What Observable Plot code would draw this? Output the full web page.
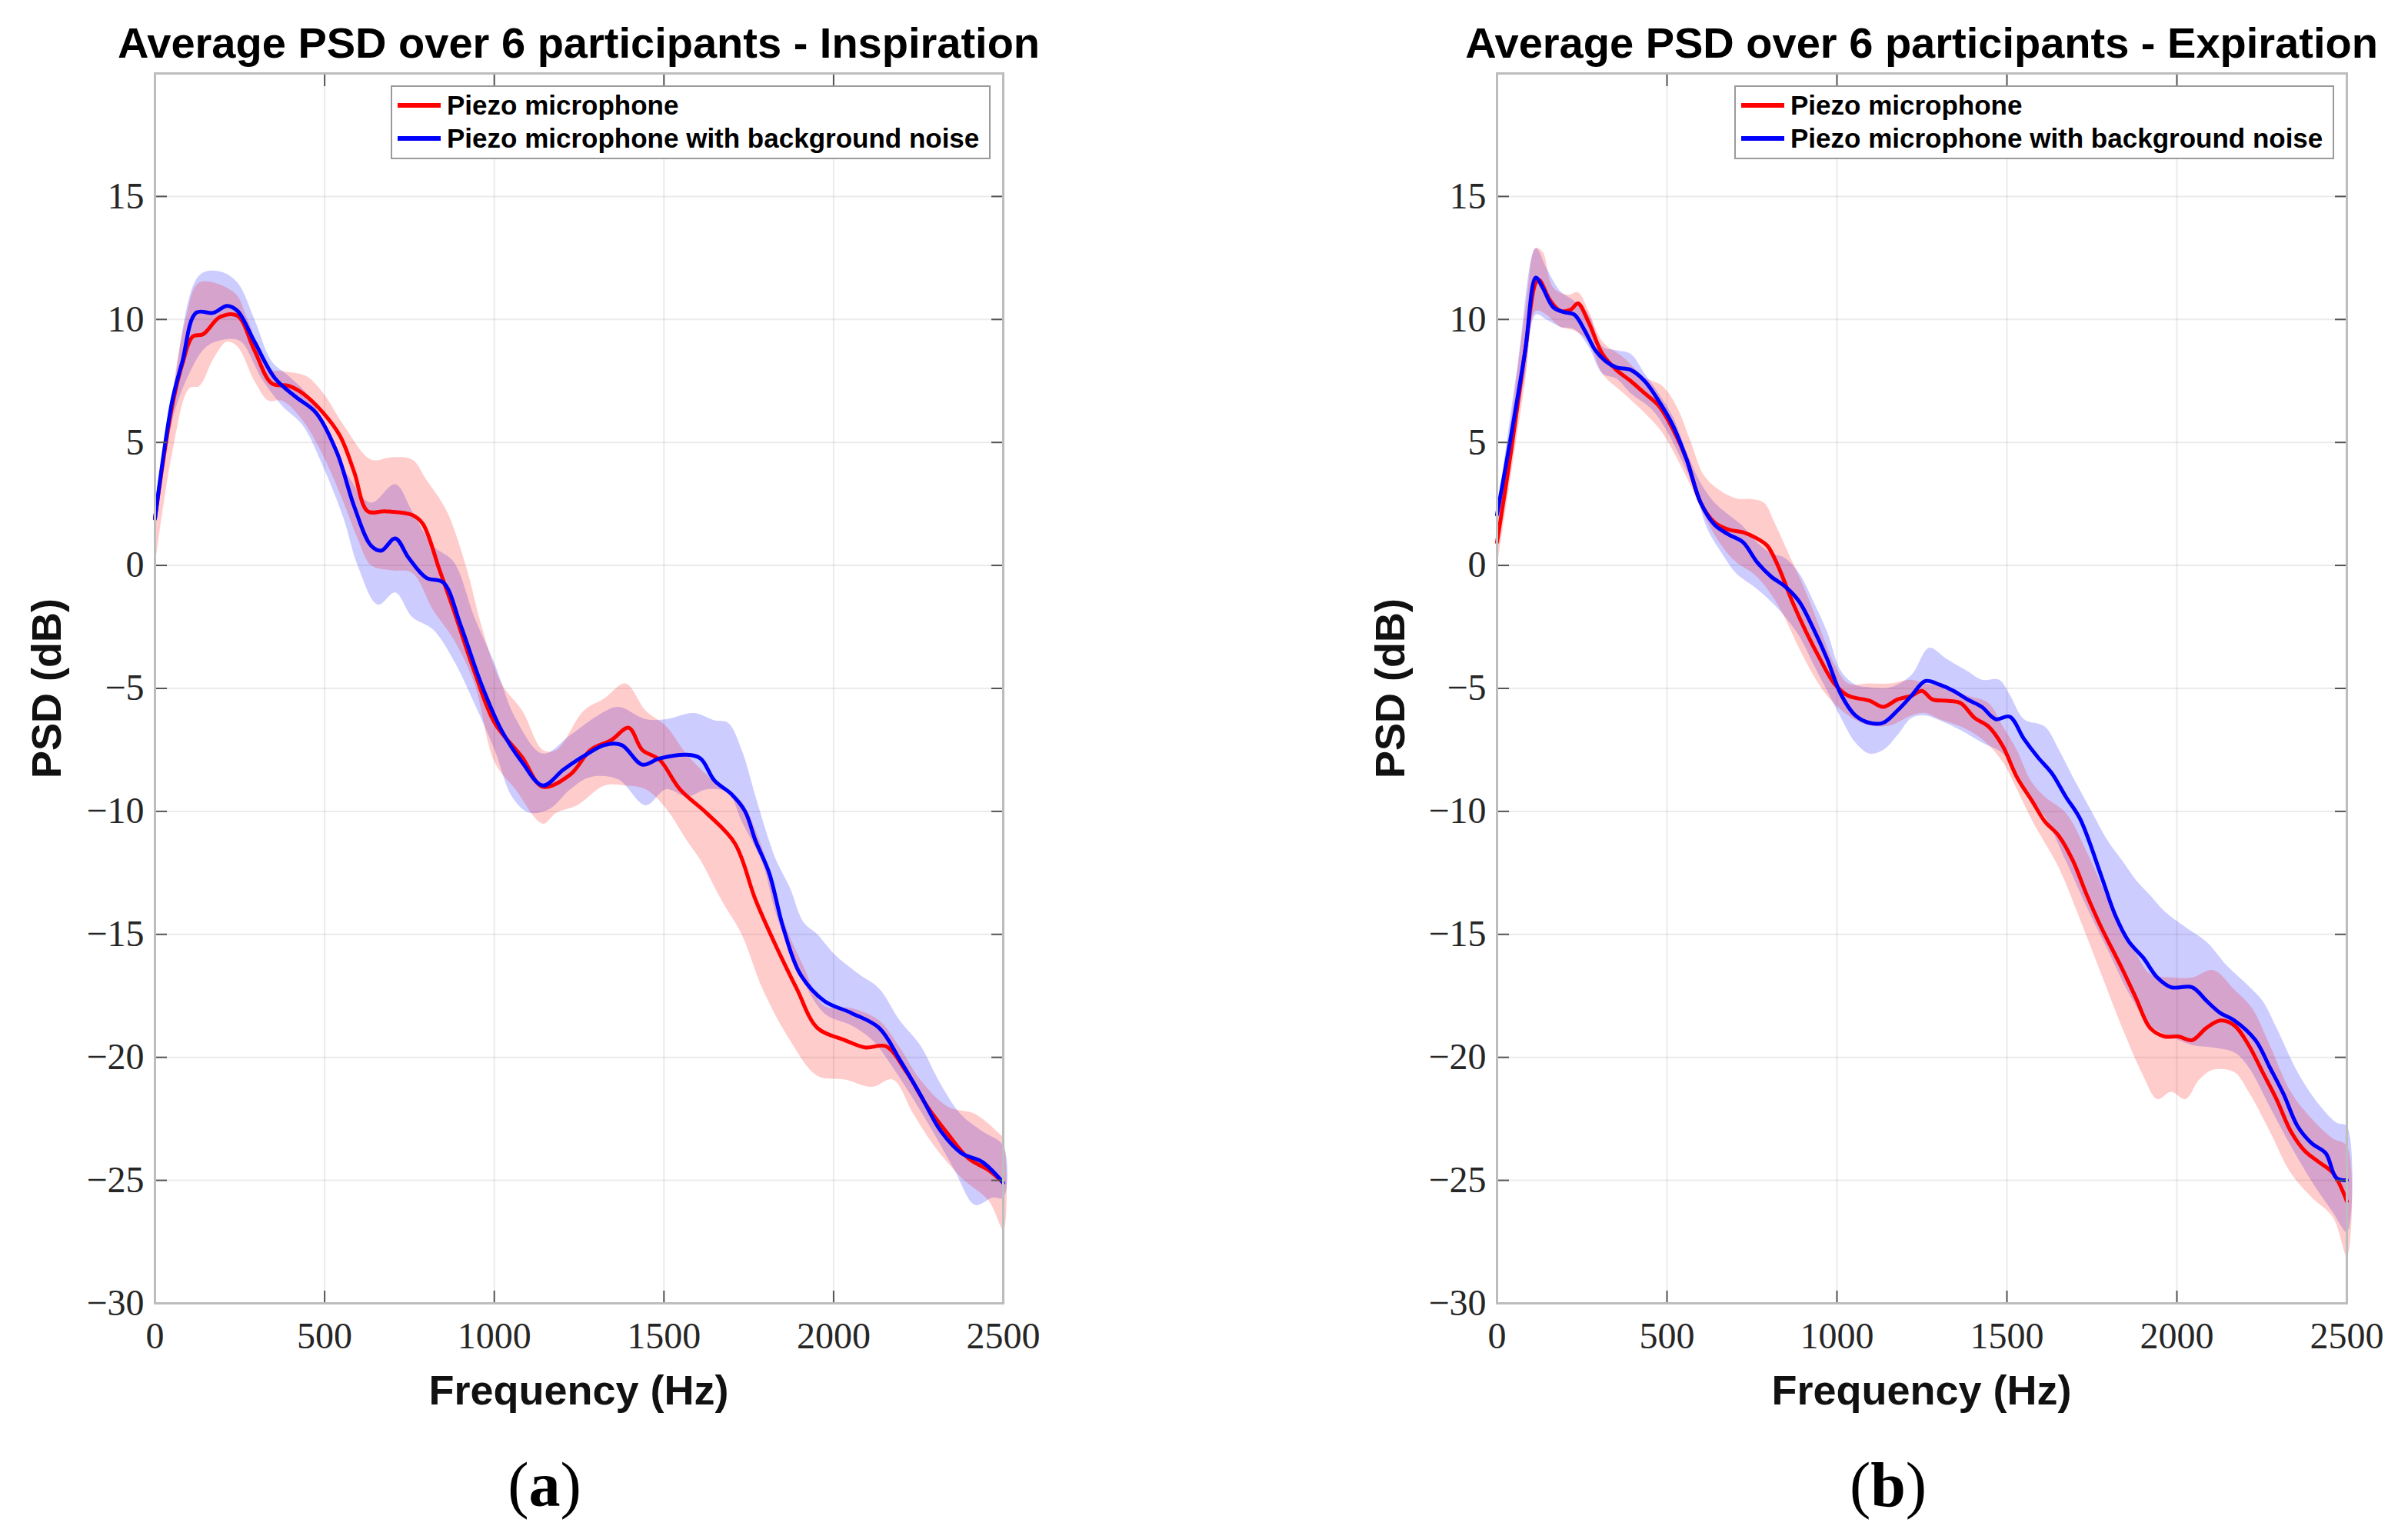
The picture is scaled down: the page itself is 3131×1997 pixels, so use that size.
<!DOCTYPE html>
<html>
<head>
<meta charset="utf-8">
<script src="https://cdn.jsdelivr.net/npm/d3@7"></script>
<script src="https://cdn.jsdelivr.net/npm/@observablehq/plot@0.6"></script>
<style>
  html, body { margin: 0; padding: 0; background: #fff; }
  #page { position: relative; width: 3131px; height: 1997px; background: #fff; overflow: hidden; }
  .abs { position: absolute; white-space: nowrap; }
  .title { font-family: "Liberation Sans", Arial, sans-serif; font-weight: bold; font-size: 56px; line-height: 56px; text-align: center; color: #000; }
  .xlab { font-family: "Liberation Sans", Arial, sans-serif; font-weight: bold; font-size: 54px; line-height: 54px; text-align: center; color: #111; }
  .ylab { font-family: "Liberation Sans", Arial, sans-serif; font-weight: bold; font-size: 54px; line-height: 54px; text-align: center; color: #111; width: 400px; transform: rotate(-90deg); }
  .legend { border: 2px solid #9a9a9a; background: #fff; box-sizing: border-box; }
  .legend .row { position: absolute; left: 0; font-family: "Liberation Sans", Arial, sans-serif; font-weight: bold; font-size: 35px; line-height: 35px; color: #000; }
  .legend .swatch { position: absolute; height: 6px; width: 56px; }
  .cap { font-family: "Liberation Serif", "Times New Roman", serif; font-size: 82px; line-height: 82px; text-align: center; color: #000; }
</style>
</head>
<body>
<div id="page"></div>
<script>
// ---------------- DATA ----------------
const xTicks = [0, 500, 1000, 1500, 2000, 2500];
const yTicks = [-30, -25, -20, -15, -10, -5, 0, 5, 10, 15];
const seriesNames = ["Piezo microphone", "Piezo microphone with background noise"];
const panelTitles = ["Average PSD over 6 participants - Inspiration", "Average PSD over 6 participants - Expiration"];
const panelCaptions = ["a", "b"];

// Inspiration — Piezo microphone (mean, upper, lower) [Hz, dB]
const inspPiezoMean = [[0,1.9],[51,6.5],[81,8.2],[111,9.3],[142,9.4],[192,10.1],[243,10.15],[293,8.75],[344,7.4],[394,7.3],[435,7.0],[496,6.2],[546,5.25],[587,3.8],[627,2.2],[678,2.2],[758,2.05],[789,1.7],[839,-0.2],[880,-1.8],[941,-4.3],[1001,-6.4],[1082,-7.8],[1143,-9.0],[1224,-8.5],[1284,-7.5],[1345,-7.1],[1396,-6.6],[1436,-7.5],[1487,-7.9],[1547,-9.1],[1628,-10.1],[1709,-11.3],[1770,-13.6],[1831,-15.5],[1891,-17.2],[1952,-18.8],[2033,-19.3],[2094,-19.6],[2154,-19.55],[2215,-20.6],[2276,-22.0],[2336,-23.1],[2397,-24.1],[2458,-24.6],[2500,-25.1]];
const inspPiezoUpper = [[0,2.0],[51,7.0],[90,10.0],[131,11.5],[233,11.1],[273,10.0],[334,8.0],[374,7.9],[445,7.7],[496,7.0],[556,5.7],[637,4.3],[698,4.4],[758,4.3],[799,3.5],[860,2.2],[920,-0.2],[961,-2.4],[1021,-4.8],[1082,-5.9],[1143,-7.5],[1183,-7.5],[1264,-5.9],[1325,-5.4],[1386,-4.8],[1446,-5.9],[1507,-6.55],[1568,-7.7],[1649,-8.8],[1709,-9.4],[1729,-9.6],[1790,-11.5],[1851,-14.4],[1911,-16.3],[1972,-17.9],[2053,-18.0],[2134,-18.5],[2195,-19.6],[2255,-20.9],[2336,-22.0],[2417,-22.3],[2488,-23.1],[2500,-23.3]];
const inspPiezoLower = [[0,0],[51,4.6],[101,7.2],[131,7.3],[172,8.4],[212,9.1],[243,8.9],[293,7.5],[334,6.7],[374,6.7],[435,5.9],[496,4.45],[556,2.55],[597,1.1],[637,0],[698,-0.2],[758,-0.3],[819,-1.8],[880,-3.0],[941,-4.8],[1001,-8.0],[1062,-9.1],[1143,-10.5],[1183,-10.05],[1244,-9.75],[1325,-8.95],[1386,-8.95],[1446,-9.1],[1507,-9.9],[1568,-11.2],[1608,-12.0],[1669,-13.6],[1729,-15.0],[1790,-17.2],[1871,-19.3],[1952,-20.75],[2033,-20.9],[2114,-21.2],[2174,-20.9],[2235,-22.3],[2296,-23.6],[2377,-24.9],[2458,-25.85],[2500,-27.0]];

// Inspiration — Piezo microphone with background noise
const inspNoiseMean = [[0,1.9],[51,6.7],[81,8.3],[121,10.27],[172,10.27],[212,10.55],[243,10.35],[293,9.1],[354,7.6],[415,6.85],[475,6.2],[536,4.6],[587,2.4],[637,0.8],[667,0.6],[708,1.1],[748,0.3],[799,-0.5],[850,-0.7],[900,-2.4],[961,-4.8],[1021,-6.7],[1082,-8.0],[1143,-8.95],[1204,-8.3],[1264,-7.75],[1325,-7.3],[1375,-7.3],[1436,-8.1],[1487,-7.85],[1568,-7.7],[1608,-7.85],[1649,-8.75],[1699,-9.3],[1739,-10.0],[1770,-11.2],[1810,-12.5],[1851,-14.7],[1901,-16.6],[1972,-17.7],[2053,-18.2],[2134,-18.8],[2195,-20.1],[2255,-21.5],[2316,-23.0],[2377,-23.9],[2438,-24.25],[2500,-25.1]];
const inspNoiseUpper = [[0,2.0],[51,6.85],[131,11.8],[192,11.95],[243,11.5],[293,10.0],[344,8.3],[394,7.7],[455,6.85],[516,5.25],[576,3.5],[637,2.55],[708,3.3],[758,2.2],[819,0.8],[880,0.15],[941,-2.1],[1001,-4.0],[1062,-6.2],[1143,-7.65],[1224,-6.9],[1305,-6.1],[1365,-5.75],[1446,-6.25],[1507,-6.25],[1588,-6.0],[1649,-6.3],[1689,-6.4],[1729,-7.5],[1770,-9.4],[1810,-11.2],[1831,-12.0],[1871,-13.1],[1911,-14.5],[1952,-15.0],[2002,-15.8],[2073,-16.6],[2134,-17.2],[2195,-18.5],[2255,-19.5],[2316,-21.1],[2377,-22.35],[2438,-23.0],[2500,-23.6]];
const inspNoiseLower = [[0,1.5],[51,5.9],[101,7.8],[152,8.9],[212,9.2],[253,9.1],[314,7.6],[374,6.5],[435,5.7],[496,4.0],[556,1.9],[597,0],[657,-1.6],[708,-1.1],[758,-2.1],[819,-2.6],[880,-3.85],[941,-5.6],[1001,-7.5],[1052,-9.4],[1102,-10.05],[1163,-9.9],[1224,-9.1],[1284,-8.6],[1365,-8.7],[1446,-9.75],[1507,-9.1],[1568,-9.4],[1628,-9.1],[1689,-9.25],[1729,-10.4],[1790,-12.1],[1831,-14.2],[1891,-16.3],[1972,-18.2],[2053,-18.7],[2114,-19.3],[2174,-20.4],[2235,-21.7],[2296,-23.1],[2357,-24.6],[2417,-26.0],[2468,-25.7],[2500,-25.7]];

// Expiration — Piezo microphone
const expPiezoMean = [[0,0.94],[41,4.6],[83,8.75],[114,11.5],[124,11.6],[155,10.8],[186,10.35],[217,10.4],[238,10.65],[269,9.9],[310,8.6],[351,7.95],[393,7.5],[434,7.0],[475,6.5],[517,5.55],[558,4.3],[599,2.55],[640,1.75],[682,1.45],[723,1.35],[764,1.1],[795,0.8],[826,0],[868,-1.45],[909,-2.7],[950,-3.8],[992,-4.8],[1033,-5.3],[1095,-5.5],[1136,-5.75],[1178,-5.45],[1219,-5.3],[1250,-5.1],[1281,-5.45],[1322,-5.5],[1364,-5.6],[1405,-6.2],[1446,-6.55],[1488,-7.35],[1529,-8.6],[1575,-9.6],[1611,-10.4],[1653,-11.0],[1694,-12.0],[1735,-13.4],[1777,-14.7],[1839,-16.4],[1880,-17.6],[1921,-18.8],[1963,-19.15],[2004,-19.15],[2045,-19.3],[2087,-18.8],[2128,-18.5],[2169,-18.7],[2211,-19.5],[2252,-20.6],[2293,-21.7],[2335,-23.0],[2376,-23.8],[2417,-24.25],[2459,-24.7],[2500,-25.85]];
const expPiezoUpper = [[0,1.0],[83,10.35],[114,12.9],[134,12.75],[165,11.3],[207,11.0],[238,11.1],[269,10.35],[310,9.1],[372,8.45],[434,7.65],[486,7.3],[527,6.5],[568,5.1],[609,3.65],[661,3.0],[713,2.7],[744,2.7],[785,2.55],[816,1.75],[857,0.5],[909,-1.1],[950,-2.55],[992,-4.0],[1033,-4.8],[1095,-4.8],[1157,-4.8],[1219,-4.65],[1260,-4.8],[1322,-4.95],[1384,-5.3],[1446,-5.6],[1488,-6.55],[1529,-7.5],[1570,-8.75],[1611,-9.4],[1673,-10.06],[1735,-11.65],[1797,-13.6],[1839,-15.0],[1880,-15.8],[1921,-16.6],[1983,-16.75],[2045,-16.75],[2107,-16.45],[2169,-17.25],[2221,-18.0],[2273,-19.5],[2335,-21.4],[2397,-22.5],[2459,-23.3],[2500,-23.6]];
const expPiezoLower = [[0,0],[41,3.7],[83,7.5],[114,10.35],[145,10.2],[186,9.7],[227,9.55],[269,9.1],[310,7.8],[372,7.0],[434,6.2],[486,5.4],[537,4.15],[578,3.0],[620,1.75],[661,0.8],[702,0.15],[764,-0.45],[826,-1.6],[888,-3.35],[930,-4.45],[971,-5.3],[1033,-6.1],[1095,-6.5],[1157,-6.5],[1219,-6.1],[1260,-6.0],[1302,-6.25],[1364,-6.55],[1426,-7.05],[1488,-8.0],[1529,-9.1],[1575,-10.4],[1653,-12.3],[1715,-14.4],[1777,-16.6],[1839,-18.8],[1901,-20.75],[1942,-21.7],[1983,-21.4],[2025,-21.7],[2066,-20.9],[2107,-20.5],[2169,-20.6],[2211,-21.4],[2273,-23.0],[2335,-24.7],[2397,-25.7],[2459,-26.5],[2500,-28.1]];

// Expiration — Piezo microphone with background noise
const expNoiseMean = [[0,2.06],[41,5.25],[83,8.75],[114,11.7],[134,11.3],[165,10.5],[196,10.3],[227,10.2],[258,9.55],[289,8.75],[320,8.3],[351,8.05],[393,7.95],[434,7.5],[475,6.7],[517,5.7],[558,4.3],[599,2.55],[640,1.65],[682,1.25],[723,0.95],[764,0.15],[806,-0.45],[847,-0.85],[888,-1.45],[930,-2.55],[971,-3.8],[1012,-5.25],[1054,-6.1],[1095,-6.4],[1136,-6.4],[1178,-5.9],[1219,-5.3],[1260,-4.7],[1302,-4.85],[1343,-5.1],[1384,-5.45],[1426,-5.75],[1467,-6.25],[1508,-6.15],[1550,-7.05],[1591,-7.8],[1632,-8.45],[1673,-9.4],[1715,-10.3],[1777,-12.6],[1818,-14.2],[1859,-15.3],[1901,-15.95],[1942,-16.75],[1983,-17.15],[2045,-17.15],[2087,-17.7],[2128,-18.2],[2169,-18.5],[2231,-19.3],[2273,-20.4],[2314,-21.5],[2355,-22.8],[2397,-23.5],[2438,-23.9],[2469,-24.9],[2500,-25.0]];
const expNoiseUpper = [[0,2.1],[62,8.3],[114,12.9],[145,12.1],[186,11.15],[227,10.75],[269,10.2],[310,8.9],[351,8.75],[393,8.6],[434,7.8],[475,7.0],[517,6.05],[558,4.6],[599,3.35],[640,2.55],[682,2.05],[723,1.6],[764,0.95],[806,0.5],[847,0.3],[888,-0.3],[930,-1.45],[971,-2.7],[1012,-4.3],[1054,-4.85],[1095,-4.95],[1157,-4.95],[1219,-4.45],[1271,-3.35],[1322,-3.8],[1384,-4.3],[1426,-4.65],[1477,-4.65],[1508,-5.25],[1550,-6.25],[1611,-6.55],[1653,-7.5],[1694,-8.6],[1745,-9.9],[1797,-11.2],[1839,-12.0],[1880,-12.8],[1921,-13.4],[1963,-14.05],[2025,-14.7],[2087,-15.3],[2149,-16.3],[2211,-17.1],[2252,-17.7],[2293,-18.8],[2355,-20.6],[2417,-21.9],[2469,-22.65],[2500,-22.8]];
const expNoiseLower = [[0,1.5],[41,4.6],[83,7.8],[114,10.2],[145,10.0],[186,9.7],[227,9.6],[269,8.9],[310,7.8],[351,7.6],[393,7.0],[455,6.35],[496,5.55],[537,4.45],[578,3.2],[620,1.45],[661,0.5],[702,-0.3],[764,-0.95],[826,-1.75],[888,-2.85],[930,-4.0],[971,-5.1],[1012,-6.2],[1054,-7.2],[1095,-7.65],[1136,-7.5],[1178,-6.9],[1219,-6.2],[1260,-6.1],[1302,-6.3],[1364,-6.7],[1426,-7.2],[1488,-7.65],[1529,-8.45],[1591,-9.9],[1611,-10.2],[1673,-12.0],[1735,-13.9],[1797,-15.65],[1859,-17.4],[1921,-18.7],[1983,-19.15],[2045,-19.5],[2107,-19.6],[2169,-19.8],[2211,-20.4],[2273,-22.0],[2335,-23.6],[2397,-25.05],[2459,-26.3],[2500,-27.1]];

// ---------------- DRAWING ----------------
const RED = "#ff0000", BLUE = "#0000ff";
const toRows = (pairs) => pairs.map(([f, v]) => ({f, v}));
const bandRows = (upper, lower) => toRows(upper.concat(lower.slice().reverse()));
const fmtInt = d3.format("d");

function panel({mean1, up1, lo1, mean2, up2, lo2, width, height, ml, mr, mt, mb}) {
  return Plot.plot({
    width, height,
    marginLeft: ml, marginRight: mr, marginTop: mt, marginBottom: mb,
    x: {domain: [0, 2500]},
    y: {domain: [-30, 20]},
    style: {background: "transparent", fontFamily: "Liberation Serif, Times New Roman, serif", fontSize: "48px", color: "#262626"},
    marks: [
      Plot.gridX(xTicks, {stroke: "#262626", strokeOpacity: 0.09, strokeWidth: 2}),
      Plot.gridY(yTicks, {stroke: "#262626", strokeOpacity: 0.09, strokeWidth: 2}),
      Plot.line(bandRows(up2, lo2), {x: "f", y: "v", fill: BLUE, fillOpacity: 0.2, stroke: "none", curve: "catmull-rom"}),
      Plot.line(bandRows(up1, lo1), {x: "f", y: "v", fill: RED, fillOpacity: 0.2, stroke: "none", curve: "catmull-rom"}),
      Plot.line(toRows(mean1), {x: "f", y: "v", stroke: RED, strokeWidth: 5, curve: "catmull-rom"}),
      Plot.line(toRows(mean2), {x: "f", y: "v", stroke: BLUE, strokeWidth: 5, curve: "catmull-rom"}),
      Plot.axisX(xTicks, {anchor: "bottom", tickSize: -16, tickPadding: 40, tickFormat: fmtInt, label: null, fontSize: 48, stroke: "#555", strokeWidth: 2, fill: "#262626"}),
      Plot.axisX(xTicks, {anchor: "top", tickSize: -16, tickFormat: () => "", label: null, stroke: "#555", strokeWidth: 2}),
      Plot.axisY(yTicks, {anchor: "left", tickSize: -16, tickPadding: 30, label: null, fontSize: 48, stroke: "#555", strokeWidth: 2, fill: "#262626"}),
      Plot.axisY(yTicks, {anchor: "right", tickSize: -16, tickFormat: () => "", label: null, stroke: "#555", strokeWidth: 2}),
      Plot.frame({stroke: "#bdbdbd", strokeWidth: 3})
    ]
  });
}

const page = document.getElementById("page");

function addDiv(cls, text, css) {
  const d = document.createElement("div");
  d.className = "abs " + cls;
  if (text !== null) d.textContent = text;
  Object.assign(d.style, css);
  page.appendChild(d);
  return d;
}

function addLegend(left, top) {
  const box = addDiv("legend", null, {left: left + "px", top: top + "px", width: "780px", height: "96px"});
  const colors = [RED, BLUE];
  seriesNames.forEach((name, i) => {
    const sw = document.createElement("div");
    sw.className = "swatch";
    Object.assign(sw.style, {left: "7px", top: (21 + i * 43) + "px", background: colors[i]});
    box.appendChild(sw);
    const t = document.createElement("div");
    t.className = "row";
    t.textContent = name;
    Object.assign(t.style, {left: "71px", top: (6 + i * 43) + "px"});
    box.appendChild(t);
  });
}

const panels = [
  {left: 0, width: 1560, frameL: 201, frameR: 1304, data: [inspPiezoMean, inspPiezoUpper, inspPiezoLower, inspNoiseMean, inspNoiseUpper, inspNoiseLower], legendLeft: 508, yLabX: 60, capX: 708},
  {left: 1565, width: 1566, frameL: 1946, frameR: 3051, data: [expPiezoMean, expPiezoUpper, expPiezoLower, expNoiseMean, expNoiseUpper, expNoiseLower], legendLeft: 2255, yLabX: 1807, capX: 2455}
];
const H = 1800, frameT = 95, frameB = 1694;

panels.forEach((p, i) => {
  const [m1, u1, l1, m2, u2, l2] = p.data;
  const svg = panel({
    mean1: m1, up1: u1, lo1: l1, mean2: m2, up2: u2, lo2: l2,
    width: p.width, height: H,
    ml: p.frameL - p.left, mr: p.width - (p.frameR - p.left), mt: frameT, mb: H - frameB
  });
  const holder = addDiv("", null, {left: p.left + "px", top: "0px"});
  holder.appendChild(svg);

  const fw = p.frameR - p.frameL;
  addDiv("title", panelTitles[i], {left: (p.frameL - 200) + "px", width: (fw + 400) + "px", top: "28px"});
  addLegend(p.legendLeft, 111);
  addDiv("xlab", "Frequency (Hz)", {left: p.frameL + "px", width: fw + "px", top: "1780px"});
  addDiv("ylab", "PSD (dB)", {left: (p.yLabX - 200) + "px", top: (895 - 27) + "px"});
  const cap = addDiv("cap", null, {left: (p.capX - 100) + "px", width: "200px", top: "1890px"});
  cap.innerHTML = "(<b>" + panelCaptions[i] + "</b>)";
});
</script>
</body>
</html>
